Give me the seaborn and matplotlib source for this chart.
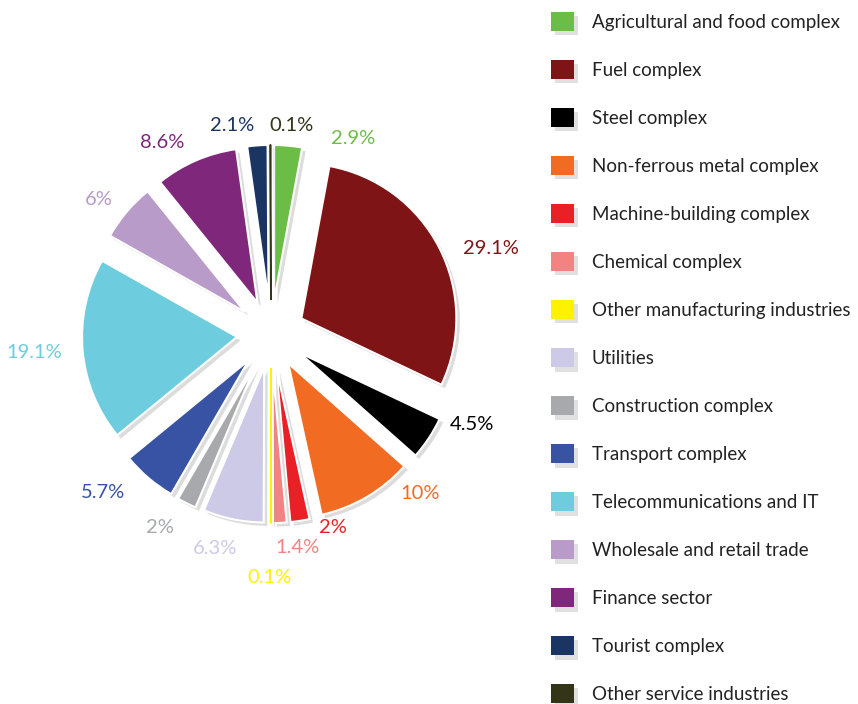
import matplotlib
matplotlib.use("Agg")
import numpy as np
import matplotlib.pyplot as plt
import matplotlib.patheffects as pe
from matplotlib.patches import Patch
import seaborn as sns

# data
sectors = ['Agricultural and food complex', 'Fuel complex', 'Steel complex',
           'Non-ferrous metal complex', 'Machine-building complex', 'Chemical complex',
           'Other manufacturing industries', 'Utilities', 'Construction complex',
           'Transport complex', 'Telecommunications and IT', 'Wholesale and retail trade',
           'Finance sector', 'Tourist complex', 'Other service industries']
shares = [2.9, 29.1, 4.5, 10, 2, 1.4, 0.1, 6.3, 2, 5.7, 19.1, 6, 8.6, 2.1, 0.1]
colors = ['#6cbd45', '#7f1416', '#000000', '#f26b23', '#e92127', '#f38383',
          '#fff200', '#cccae6', '#a7a9ac', '#3953a4', '#6dcddf', '#b89bc9',
          '#7e277b', '#1b3563', '#343419']

# label placement: angle shift from the slice middle (deg) and distance (radius units)
lbl_shift = [-17.5, -5.9, 9.2, 12.7, 8.8, 4.3, -0.4, -3, -3.5, -6.2, -0.4, 2.2, 6.1, 6.3, -5.7]
lbl_dist = [1.37, 1.52, 1.42, 1.41, 1.31, 1.39, 1.57, 1.43, 1.44, 1.49, 1.53, 1.41, 1.42, 1.37, 1.35]

sns.set_style("white")
plt.rcParams['font.family'] = ['Lato', 'DejaVu Sans']

fig = plt.figure(figsize=(8.58, 7.04), dpi=100)
# square axes, 1 data unit = 155 px, pie centre at (271, 334) px
R = 155
S = 2 * 1.6 * R
ax = fig.add_axes([(271 - S / 2) / 858, (704 - 334 - S / 2) / 704, S / 858, S / 704])

wedges, _ = ax.pie(shares, colors=colors, startangle=90, counterclock=False,
                   explode=[0.22] * len(shares),
                   wedgeprops=dict(edgecolor='white', linewidth=1.5))
shadow = [pe.SimplePatchShadow(offset=(2.5, -2.5), shadow_rgbFace='0.55', alpha=0.3), pe.Normal()]
for w, c, v, sh, d in zip(wedges, colors, shares, lbl_shift, lbl_dist):
    w.set_path_effects(shadow)
    if v < 0.5:
        # tiny slices would vanish under the white border, draw them as lines
        w.set_edgecolor(c)
        w.set_linewidth(1.0)
        w.set_zorder(5)
    ang = np.deg2rad((w.theta1 + w.theta2) / 2 + sh)
    ax.text(d * np.cos(ang), d * np.sin(ang), f"{v:g}%", color=c, fontsize=14.5,
            ha='center', va='center')
ax.set_xlim(-1.6, 1.6)
ax.set_ylim(-1.6, 1.6)
ax.axis('off')

handles = [Patch(facecolor=c, edgecolor='none',
                 path_effects=[pe.SimplePatchShadow(offset=(3, -3), shadow_rgbFace='0.6', alpha=0.3), pe.Normal()])
           for c in colors]
fig.legend(handles, sectors, loc='upper left', bbox_to_anchor=(543 / 858, 1 - 4 / 704),
           frameon=False, fontsize=13.5, handlelength=1.24, handleheight=1.24,
           handletextpad=0.95, labelspacing=1.51, labelcolor='#222222', borderaxespad=0)

fig.savefig("out.png", dpi=100)
